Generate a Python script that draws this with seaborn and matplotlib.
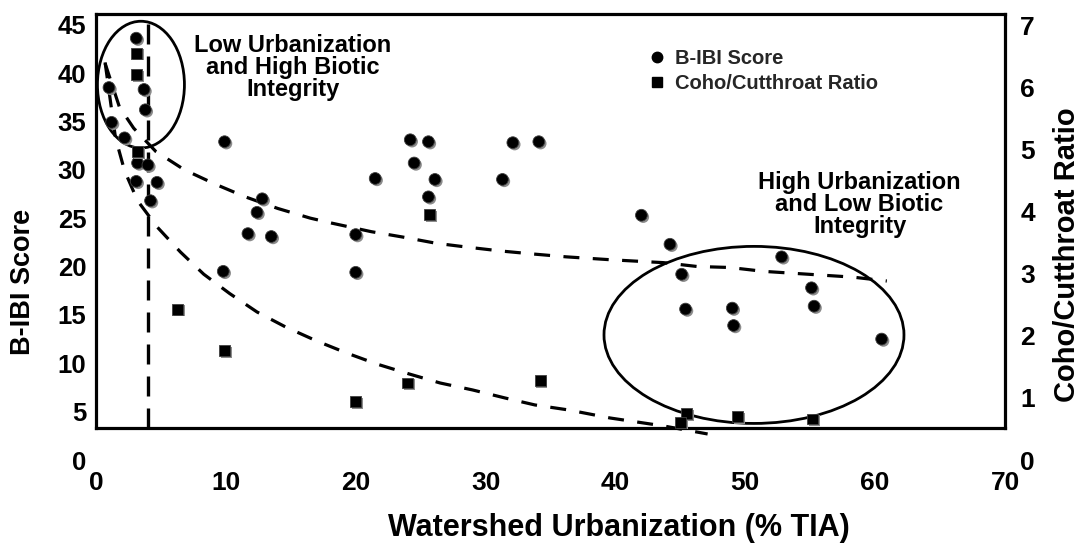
import numpy as np
import pandas as pd
import matplotlib
matplotlib.use("Agg")
import matplotlib.pyplot as plt
import matplotlib.patheffects as pe
from matplotlib.patches import Ellipse
from matplotlib.lines import Line2D
import seaborn as sns

# ---------------- data ----------------
tia_bibi = [3.1, 1.0, 3.7, 3.8, 1.2, 2.2, 9.9, 3.2, 4.0, 3.1,
            4.7, 4.2, 12.8, 12.4, 11.7, 13.5, 9.8, 20.0, 20.0, 21.5,
            24.2, 25.6, 24.5, 26.1, 25.6, 32.1, 34.1, 31.3, 42.0, 44.2,
            45.1, 52.8, 55.1, 45.4, 49.0, 49.1, 55.3, 60.5]
bibi_score = [43.6, 38.5, 38.3, 36.2, 34.9, 33.3, 32.9, 30.7, 30.5, 28.8,
              28.7, 26.8, 27.0, 25.6, 23.4, 23.1, 19.5, 23.3, 19.4, 29.1,
              33.1, 32.9, 30.7, 29.0, 27.2, 32.8, 32.9, 29.0, 25.3, 22.3,
              19.2, 21.0, 17.8, 15.6, 15.7, 13.9, 15.9, 12.5]

tia_ratio = [3.1, 3.1, 3.2, 6.3, 9.9, 20.0, 24.0, 25.7, 34.2, 45.5, 45.0, 49.4, 55.2]
coho_ratio = [6.55, 6.21, 4.96, 2.43, 1.76, 0.94, 1.24, 3.95, 1.28, 0.75, 0.61, 0.70, 0.66]

# trend curves (B-IBI units)
upper_x = [0.7, 1.8, 2.9, 4.6, 6.8, 9.2, 11.5, 14.0, 16.5, 18.1, 21.2, 23.6, 26.2,
           28.6, 31.2, 33.6, 36.2, 39.6, 43.7, 46.3, 48.8, 51.4, 58.3, 60.9]
upper_y = [41.0, 36.5, 34.3, 31.9, 30.0, 28.5, 27.2, 26.0, 25.0, 24.5, 23.6, 23.05, 22.4,
           22.0, 21.6, 21.3, 21.0, 20.7, 20.4, 20.0, 19.9, 19.5, 18.9, 18.5]
lower_x = [0.7, 1.5, 2.2, 3.2, 4.7, 6.5, 8.3, 10.3, 12.4, 14.6, 17.0, 19.3, 21.6,
           24.1, 26.5, 29.0, 31.5, 33.8, 36.4, 39.6, 43.7, 47.1]
lower_y = [41.1, 33.3, 29.9, 26.8, 24.1, 21.5, 19.2, 17.2, 15.3, 13.75, 12.3, 11.06, 9.93,
           8.9, 7.96, 7.24, 6.41, 5.69, 5.17, 4.34, 3.52, 2.69]

threshold_tia = 4.0

x_ticks = [0, 10, 20, 30, 40, 50, 60, 70]
left_ticks = [0, 5, 10, 15, 20, 25, 30, 35, 40, 45]
right_ticks = [0, 1, 2, 3, 4, 5, 6, 7]

# ---------------- styling ----------------
sns.set_theme(style="white")
plt.rcParams["font.family"] = ["Liberation Sans", "DejaVu Sans"]
plt.rcParams["font.weight"] = "bold"
plt.rcParams["axes.labelweight"] = "bold"

W, H = 1085, 552
fig = plt.figure(figsize=(W / 100, H / 100), dpi=100)
ax = fig.add_axes([96 / W, 1 - 460 / H, 909 / W, 446 / H])
ax.set_facecolor("white")
ax.set_xlim(0, 70)
ax.set_ylim(0, 46.1)
ybot = 3.3

ax2 = ax.twinx()
ax2.set_ylim(0, 7.18)
for s in ax2.spines.values():
    s.set_visible(False)

for name in ["left", "right", "top", "bottom"]:
    ax.spines[name].set_color("black")
    ax.spines[name].set_linewidth(2.3)
    ax.spines[name].set_visible(True)
ax.spines["bottom"].set_position(("data", ybot))
ax.spines["left"].set_bounds(ybot, 46.1)
ax.spines["right"].set_bounds(ybot, 46.1)

shadow = [pe.SimplePatchShadow(offset=(1.3, -1.3), shadow_rgbFace="0.55", alpha=1.0), pe.Normal()]

df_b = pd.DataFrame({"tia": tia_bibi, "score": bibi_score})
df_r = pd.DataFrame({"tia": tia_ratio, "ratio": coho_ratio})

# curves
for cx, cy in [(upper_x, upper_y), (lower_x, lower_y)]:
    sns.lineplot(x=cx, y=cy, ax=ax, color="black", lw=2.3, sort=False,
                 estimator=None)
    ln = ax.lines[-1]
    ln.set_dashes((5, 4.2))
    ln.set_clip_on(False)

ax.axvline(threshold_tia, ymin=ybot / 46.1, ymax=1.0, color="black", lw=2.4,
           dashes=(6, 3.6))

# ellipses
ax.add_patch(Ellipse((3.46, 38.8), 6.7, 13.1, fill=False, ec="black", lw=2.0))
ax.add_patch(Ellipse((50.67, 12.93), 23.1, 18.3, fill=False, ec="black", lw=2.0))

sns.scatterplot(data=df_b, x="tia", y="score", ax=ax, marker="o", s=72,
                color="black", edgecolor="0.25", linewidth=0.6, zorder=5)
ax.collections[-1].set_path_effects(shadow)
sns.scatterplot(data=df_r, x="tia", y="ratio", ax=ax2, marker="s", s=62,
                color="black", edgecolor="0.25", linewidth=0.6, zorder=5)
ax2.collections[-1].set_path_effects(shadow)

# ticks
ax.set_xticks(x_ticks)
ax.set_xticklabels([str(t) for t in x_ticks], fontsize=19, fontweight="bold")
ax.set_yticks(left_ticks)
ax.set_yticklabels([str(t) for t in left_ticks], fontsize=18.5, fontweight="bold")
ax2.set_yticks(right_ticks)
ax2.set_yticklabels([str(t) for t in right_ticks], fontsize=19, fontweight="bold")
ax.tick_params(axis="x", length=0, pad=31, colors="black")
ax.tick_params(axis="y", length=0, pad=7, colors="black")
ax2.tick_params(axis="y", length=0, pad=11, colors="black")
ax.grid(False)
ax2.grid(False)

ax.set_xlabel("Watershed Urbanization (% TIA)", fontsize=22, fontweight="bold", color="black")
ax.xaxis.set_label_coords(0.575, -0.118)
ax.set_ylabel("B-IBI Score", fontsize=19.5, fontweight="bold", color="black")
ax.yaxis.set_label_coords(-0.066, 0.40)
ax2.set_ylabel("Coho/Cutthroat Ratio", fontsize=21, fontweight="bold", color="black",
               rotation=90)
ax2.yaxis.set_label_coords(1.053, 0.46)

# annotations
ax.text(15.15, 40.6, "Low Urbanization\nand High Biotic\nIntegrity", ha="center", va="center",
        fontsize=17, fontweight="bold", linespacing=0.95, color="black")
ax.text(58.8, 26.4, "High Urbanization\nand Low Biotic\nIntegrity", ha="center", va="center",
        fontsize=17, fontweight="bold", linespacing=0.95, color="black")

handles = [
    Line2D([], [], marker="o", ls="none", color="black", markersize=7.5,
           label="B-IBI Score"),
    Line2D([], [], marker="s", ls="none", color="black", markersize=7,
           label="Coho/Cutthroat Ratio"),
]
leg = ax2.legend(handles=handles, loc="upper left", bbox_to_anchor=(0.606, 0.922),
                 frameon=False, borderpad=0, borderaxespad=0, handlelength=1.0,
                 handletextpad=0.4, labelspacing=0.3,
                 prop={"size": 14.5, "weight": "bold"})

fig.savefig("out.png", dpi=100, facecolor="white")
